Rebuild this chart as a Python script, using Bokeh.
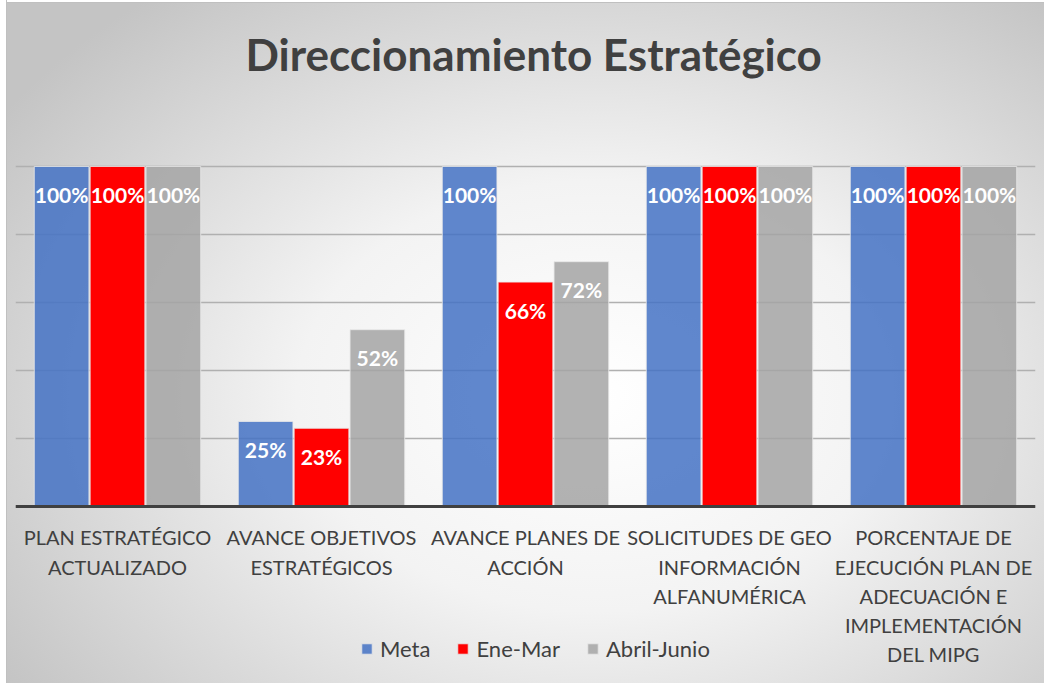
from bokeh.plotting import figure
from bokeh.models import ColumnDataSource, LabelSet, Legend, LegendItem, Title, FactorRange, Span
from bokeh.core.properties import value
from bokeh.transform import dodge
from bokeh.embed import file_html
from bokeh.resources import INLINE

categories = ["PLAN ESTRATÉGICO\nACTUALIZADO", "AVANCE OBJETIVOS\nESTRATÉGICOS",
              "AVANCE PLANES DE\nACCIÓN", "SOLICITUDES DE GEO\nINFORMACIÓN\nALFANUMÉRICA",
              "PORCENTAJE DE\nEJECUCIÓN PLAN DE\nADECUACIÓN E\nIMPLEMENTACIÓN\nDEL MIPG"]
series = ["Meta", "Ene-Mar", "Abril-Junio"]
meta = [1.00, 0.25, 1.00, 1.00, 1.00]
ene_mar = [1.00, 0.23, 0.66, 1.00, 1.00]
abril_junio = [1.00, 0.52, 0.72, 1.00, 1.00]
grid_ticks = [0, 0.2, 0.4, 0.6, 0.8, 1.0, 1.2]

colors = ["#4472C4", "#FF0000", "#A5A5A5"]
alphas = [0.85, 1.0, 0.85]
FONT = "Lato"
TXT = "#404040"

W, H = 1044, 683
bg = ("linear-gradient(to right, #ffffff 0 6px, #c0c0c0 6px 7px, transparent 7px), "
      "linear-gradient(to bottom, #ffffff 0 2px, #c0c0c0 2px 3px, transparent 3px), "
      "radial-gradient(ellipse 68% 75% at 57% 58%, #ffffff 0%, #f3f3f3 42%, #c4c4c4 100%)")
p = figure(x_range=FactorRange(*categories), y_range=(-0.5206, 1.2), width=W, height=H,
           output_backend="svg", toolbar_location=None,
           min_border_left=15, min_border_right=9, min_border_top=98, min_border_bottom=0,
           x_axis_location=None, y_axis_location=None,
           styles={"background": bg})
p.border_fill_alpha = 0
p.background_fill_alpha = 0
p.outline_line_color = None

title = Title(text="Direccionamiento Estratégico", align="left", offset=230, standoff=37,
              text_font=FONT, text_font_size="44px", text_font_style="bold", text_color=TXT)
p.add_layout(title, "above")

p.ygrid.grid_line_color = "#b0b0b0"
p.ygrid.grid_line_width = 1.5
p.ygrid.ticker = grid_ticks
p.xgrid.grid_line_color = None

vals = [meta, ene_mar, abril_junio]
offsets = [-0.274, 0.0, 0.274]
items = []
for name, v, c, a, off in zip(series, vals, colors, alphas, offsets):
    src = ColumnDataSource(dict(x=categories, y=v, lab=[f"{round(t*100)}%" for t in v]))
    r = p.vbar(x=dodge("x", off, range=p.x_range), top="y", width=0.268, source=src,
               fill_color=c, fill_alpha=a, line_color="#e8e8e8", line_alpha=0.8, line_width=1)
    items.append(LegendItem(label=name, renderers=[r]))
    p.add_layout(LabelSet(x=dodge("x", off, range=p.x_range), y="y", text="lab", source=src,
                          y_offset=-28, text_align="center", text_baseline="middle",
                          text_color="white", text_font=value(FONT), text_font_style="bold",
                          text_font_size="21px"))

# baseline (axis line)
p.add_layout(Span(location=0, dimension="width", line_color=TXT, line_width=3))

# category labels below the baseline
lab_src = ColumnDataSource(dict(x=categories, y=[0] * len(categories), t=categories))
p.text(x="x", y="y", text="t", source=lab_src, y_offset=19, text_align="center",
       text_baseline="top", text_font=value(FONT), text_font_size="20px",
       text_color=TXT, text_line_height=1.21)

legend = Legend(items=items, orientation="horizontal", location=(345, 21),
                label_text_font=FONT, label_text_font_size="22px", label_text_color=TXT,
                glyph_width=13, glyph_height=13, spacing=26, label_standoff=7,
                padding=0, margin=0, background_fill_alpha=0, border_line_color=None)
p.add_layout(legend, "center")

open("out.html", "w").write(file_html(p, INLINE))
